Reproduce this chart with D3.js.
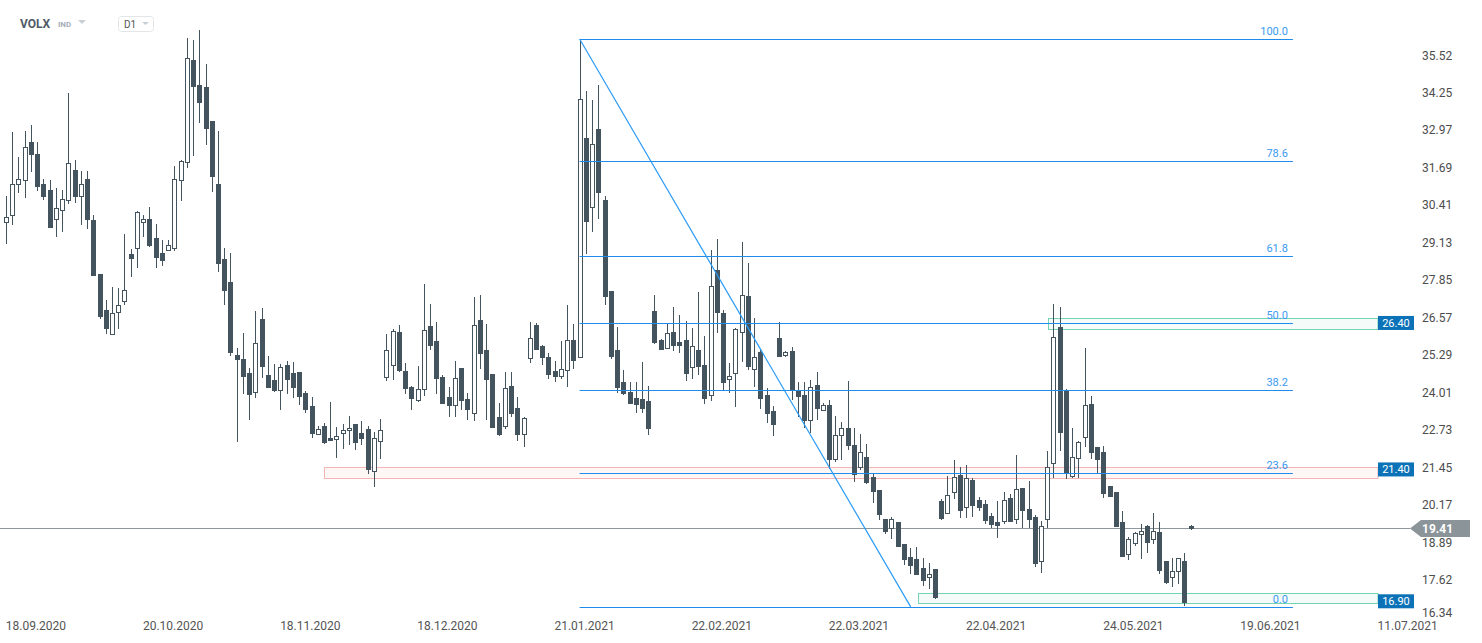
<!DOCTYPE html>
<html><head><meta charset="utf-8">
<script src="https://cdn.jsdelivr.net/npm/d3@7"></script>
<style>
body{margin:0;background:#fff;}
svg{display:block;font-family:Roboto,"Open Sans",Arial,sans-serif;}
</style>
</head><body>
<svg id="chart" width="1482" height="643"></svg>
<script>
// ---------- DATA ----------
const openV = [
29.84,30.08,31.13,31.29,32.58,32.16,31.13,30.94,29.94,30.27,
30.61,31.61,30.75,31.31,29.92,28.07,26.83,26.02,26.79,27.14,
28.75,28.96,29.84,29.94,29.31,28.79,28.89,28.96,31.27,31.88,
35.37,34.52,34.45,33.29,31.14,28.58,27.80,25.30,25.17,24.69,
24.03,26.54,24.63,24.45,24.10,24.96,24.69,24.73,24.00,23.57,
22.60,22.88,22.48,22.43,22.66,22.73,22.95,22.63,22.77,21.36,
22.36,24.55,24.96,26.09,24.76,24.21,23.78,24.14,26.30,25.79,
24.56,23.87,23.59,24.86,23.81,23.31,26.50,25.48,24.66,23.19,
22.87,24.24,23.49,22.60,25.19,26.32,25.61,25.23,24.76,24.60,
24.78,25.82,25.25,32.71,30.35,33.02,30.60,27.49,25.48,24.39,
24.04,23.84,23.81,23.74,26.81,25.82,25.53,26.09,25.75,25.82,
24.89,25.48,24.97,23.93,28.21,26.73,24.50,24.68,26.10,27.32,
24.82,25.41,23.93,23.40,25.89,25.30,25.44,24.08,23.94,23.10,
24.27,23.44,23.60,21.77,22.59,22.82,22.24,21.48,21.81,21.14,
20.70,19.71,19.40,19.61,18.86,18.41,18.34,18.04,17.72,17.99,
20.32,19.90,20.62,21.21,20.11,21.04,20.35,20.21,19.81,19.60,
19.63,20.42,19.70,20.77,20.04,19.77,18.29,19.72,21.63,26.25,
24.09,21.16,21.78,22.50,23.64,22.16,22.00,20.83,20.62,19.60,
18.50,18.88,19.19,19.47,19.02,19.27,18.28,17.72,17.92,18.28,19.48];
const highV = [
30.73,32.92,32.06,32.94,33.15,32.58,31.31,31.29,31.01,30.94,
34.25,31.96,31.59,31.59,30.10,28.07,27.18,27.63,27.58,29.43,
28.93,30.22,30.08,30.36,29.77,29.22,29.24,31.76,31.96,36.12,
36.06,36.40,35.24,33.29,32.95,28.96,28.79,25.54,26.06,24.86,
26.81,26.91,25.27,25.00,25.00,25.09,25.06,24.73,24.07,23.87,
22.88,22.98,23.70,22.84,22.95,23.23,22.95,23.04,22.88,22.67,
23.11,26.01,26.20,26.33,25.03,24.25,24.93,27.73,27.05,26.43,
24.61,24.21,25.10,24.86,24.01,27.29,27.36,26.37,24.66,23.67,
24.73,24.73,23.87,23.19,26.43,26.40,25.64,25.36,25.10,25.80,
27.01,26.37,36.09,34.32,34.01,34.52,30.75,27.49,26.26,24.80,
24.39,24.39,25.07,24.25,27.36,25.86,26.39,26.96,26.67,26.47,
26.24,27.46,25.96,28.89,29.27,26.84,25.02,26.24,29.16,28.46,
26.57,25.48,24.17,23.57,26.43,25.44,25.58,24.39,24.39,24.45,
24.73,23.66,23.77,23.23,23.02,24.42,22.82,22.60,22.27,21.26,
20.70,19.71,19.79,19.61,18.86,18.71,18.74,18.38,18.20,17.99,
20.38,21.18,21.72,21.47,21.55,21.10,20.46,20.35,19.90,20.32,
20.63,20.56,21.88,20.77,21.01,19.85,19.63,22.03,27.04,26.93,
24.15,22.82,22.38,25.55,23.91,22.16,22.20,20.83,20.62,19.98,
19.08,19.25,19.55,19.51,19.92,19.61,18.28,18.37,18.37,18.55,19.51];
const lowV = [
29.10,29.73,30.82,30.65,31.55,30.92,30.59,29.63,29.35,29.49,
30.47,30.50,29.73,29.59,28.02,26.55,26.04,26.02,26.21,27.02,
27.98,28.28,29.33,28.98,28.26,28.35,28.86,28.86,30.57,31.69,
32.10,33.24,32.47,30.87,28.15,27.01,25.27,22.35,23.99,23.10,
23.83,24.51,24.17,24.06,23.44,23.98,23.85,23.60,23.33,22.49,
22.60,22.27,22.37,21.80,22.09,22.22,22.07,22.24,21.25,20.79,
21.75,24.42,24.45,24.74,23.99,23.44,23.71,23.92,25.48,23.99,
23.68,23.20,23.20,23.44,23.10,23.07,24.84,23.10,22.86,22.55,
22.79,23.20,22.38,22.18,25.05,25.48,24.98,24.50,24.40,24.50,
24.23,24.84,25.22,28.77,29.52,29.96,27.01,25.18,24.00,23.94,
23.65,23.34,23.34,22.57,25.68,25.49,25.53,25.46,25.39,24.43,
24.50,24.61,23.62,23.74,26.05,24.11,24.02,23.54,25.07,24.81,
24.23,23.48,22.98,22.55,25.28,25.25,23.77,23.20,22.83,22.63,
23.09,23.41,21.43,21.66,21.72,22.08,20.97,21.38,20.89,20.27,
19.69,19.18,19.04,18.80,18.15,17.83,17.84,17.42,17.32,16.97,
19.66,19.90,20.39,19.73,19.73,19.79,19.99,19.53,19.41,19.07,
19.55,19.60,19.53,19.41,19.41,18.08,17.88,19.41,21.12,22.04,
21.06,21.12,21.12,22.18,21.74,21.29,20.42,20.45,19.48,18.41,
18.31,18.80,18.36,18.56,18.86,17.83,17.50,17.39,17.50,16.75,19.35];
const closeV = [
30.00,31.13,31.32,32.41,32.18,31.08,30.75,29.68,30.31,30.62,
31.85,30.72,31.13,29.96,28.05,26.65,26.23,26.74,27.00,27.53,
28.63,30.19,29.94,29.07,28.65,28.54,29.05,31.31,31.92,35.44,
34.50,33.95,33.07,31.43,28.46,27.53,25.42,25.16,24.60,23.99,
25.71,24.94,24.20,24.10,24.89,24.50,24.23,23.92,23.46,22.66,
22.77,22.34,22.40,22.53,22.74,22.81,22.32,22.46,21.41,22.46,
22.74,25.48,26.13,24.81,24.19,23.85,24.15,26.15,25.66,24.53,
23.68,23.61,24.51,23.78,23.48,26.32,25.39,24.50,22.86,22.62,
24.17,23.31,22.62,23.15,25.88,25.52,25.25,24.65,24.60,24.82,
25.81,25.15,34.03,29.89,32.50,30.88,27.33,25.28,24.23,24.02,
23.68,23.65,23.51,22.83,25.76,25.52,26.05,25.66,25.66,24.68,
25.61,24.94,23.85,27.66,26.79,24.37,24.58,26.19,27.34,24.94,
25.23,23.85,23.32,22.96,25.28,25.41,24.11,23.91,23.09,24.20,
23.51,23.59,21.77,22.57,22.82,22.25,21.23,21.99,20.98,20.68,
19.89,19.31,19.70,18.80,18.36,18.15,17.84,17.64,17.84,17.06,
19.73,20.52,21.13,20.03,21.12,20.20,20.11,19.69,19.55,19.52,
20.35,19.63,20.72,20.01,19.70,18.19,19.46,21.48,25.91,22.69,
21.29,21.84,22.33,23.59,22.01,21.74,20.61,20.51,19.48,18.46,
19.02,19.22,19.29,18.94,19.29,17.98,17.57,17.92,18.37,16.89,19.41];

const yTickValues = [35.52,34.25,32.97,31.69,30.41,29.13,27.85,26.57,25.29,24.01,22.73,21.45,20.17,18.89,17.62,16.34];
const dateLabels = ["18.09.2020","20.10.2020","18.11.2020","18.12.2020","21.01.2021","22.02.2021","22.03.2021","22.04.2021","24.05.2021","19.06.2021","11.07.2021"];
const dateIndex  = [4.8,26.8,48.8,70.8,92.8,114.8,136.8,158.8,180.8,202.8,224.8];

const fibLevels = [100, 78.6, 61.8, 50, 38.2, 23.6, 0];
const fibHigh = 36.09, fibLow = 16.71;
const fibStartIndex = 92, fibLowIndex = 145.1, fibEndIndex = 206.4;

const zoneStartIndex = [51.0, 167.1, 146.2];
const zoneLow  = [21.11, 26.21, 16.84];
const zoneHigh = [21.50, 26.56, 17.17];
const zoneLabelValue = [21.40, 26.40, 16.90];
const zoneKind = ["resistance","support","support"];

const lastPrice = 19.41;
const symbolName = "VOLX", symbolType = "IND", timeframe = "D1";

// ---------- DRAW ----------
const W = 1482, H = 643;
const svg = d3.select("#chart");
const x = d3.scaleLinear().domain([0, 190]).range([6, 1190.65]);
const y = d3.scaleLinear().domain([16.34, 35.52]).range([617.7, 55.76]);
const labelColX = 1378, labelW = 36, axisTextX = 1422;
const candleColor = "#44545f";
const fibColor = "#1f8ceb";

const n = openV.length;
const candles = d3.range(n).map(i => ({i, o: openV[i], h: highV[i], l: lowV[i], c: closeV[i]}));

// zones (behind)
const zg = svg.append("g");
zoneLow.forEach((lo, k) => {
  const top = Math.round(y(zoneHigh[k])) + 0.5, bot = Math.round(y(lo)) + 0.5;
  const x0 = Math.round(x(zoneStartIndex[k])) + 0.5;
  const red = zoneKind[k] === "resistance";
  zg.append("rect").attr("x", x0).attr("y", top)
    .attr("width", labelColX - x0).attr("height", bot - top)
    .attr("fill", red ? "#fff6f6" : "#f4fbf8")
    .attr("stroke", red ? "#f5b5b5" : "#74d3b0").attr("stroke-width", 1);
});

// last price line
const ly = Math.round(y(lastPrice)) + 0.5;
svg.append("line").attr("x1", 0).attr("x2", 1410).attr("y1", ly).attr("y2", ly)
  .attr("stroke", "#8d969c").attr("stroke-width", 1);

// candles
const cg = svg.append("g");
candles.forEach(d => {
  const cx = Math.round(x(d.i));
  const up = d.c >= d.o;
  cg.append("line").attr("x1", cx + 0.5).attr("x2", cx + 0.5)
    .attr("y1", Math.round(y(d.h))).attr("y2", Math.round(y(d.l)))
    .attr("stroke", candleColor).attr("stroke-width", 1);
  const t = Math.round(y(Math.max(d.o, d.c))), b = Math.round(y(Math.min(d.o, d.c)));
  cg.append("rect").attr("x", cx - 1.5).attr("y", t + 0.5)
    .attr("width", 4).attr("height", Math.max(1, b - t))
    .attr("fill", up ? "#ffffff" : candleColor)
    .attr("stroke", candleColor).attr("stroke-width", 1);
});

// fibonacci
const fg = svg.append("g");
const fibVal = p => fibLow + (fibHigh - fibLow) * p / 100;
fibLevels.forEach(p => {
  const yy = Math.round(y(fibVal(p))) + 0.5;
  fg.append("line").attr("x1", x(fibStartIndex)).attr("x2", x(fibEndIndex))
    .attr("y1", yy).attr("y2", yy).attr("stroke", fibColor).attr("stroke-width", 1);
  fg.append("text").attr("x", x(fibEndIndex) - 5).attr("y", yy - 5)
    .attr("text-anchor", "end").attr("font-size", 11).attr("fill", "#3a9af0")
    .text(p.toFixed(1));
});
fg.append("line").attr("x1", x(fibStartIndex)).attr("y1", y(fibHigh))
  .attr("x2", x(fibLowIndex)).attr("y2", y(fibLow))
  .attr("stroke", "#2a9af5").attr("stroke-width", 1.2);

// zone price labels
zoneLabelValue.forEach(v => {
  const cy = y(v);
  svg.append("rect").attr("x", labelColX).attr("y", cy - 7).attr("width", labelW).attr("height", 14)
    .attr("fill", "#0b72b8");
  svg.append("text").attr("x", labelColX + labelW / 2).attr("y", cy + 4)
    .attr("text-anchor", "middle").attr("font-size", 11).attr("fill", "#fff").text(v.toFixed(2));
});

// right axis labels
const ag = svg.append("g");
yTickValues.forEach(v => {
  ag.append("text").attr("x", axisTextX).attr("y", Math.min(y(v), 613) + 4)
    .attr("font-size", 12).attr("fill", "#4d4d4d").text(v.toFixed(2));
});

// last price tag
const tagTop = ly - 8.5, tagBot = ly + 8.5;
svg.append("path")
  .attr("d", `M1410,${ly} L1421,${tagTop} L1470,${tagTop} L1470,${tagBot} L1421,${tagBot} Z`)
  .attr("fill", "#8a9499");
svg.append("text").attr("x", axisTextX).attr("y", ly + 4.5).attr("font-size", 12)
  .attr("font-weight", "bold").attr("fill", "#fff").text(lastPrice.toFixed(2));

// date axis labels
dateLabels.forEach((s, k) => {
  svg.append("text").attr("x", x(dateIndex[k])).attr("y", 630)
    .attr("text-anchor", "middle").attr("font-size", 12).attr("fill", "#555").text(s);
});

// header
svg.append("text").attr("x", 20).attr("y", 27.5).attr("font-size", 12).attr("font-weight", "bold")
  .attr("fill", "#4f5b66").text(symbolName);
svg.append("text").attr("x", 58).attr("y", 27).attr("font-size", 8).attr("font-weight", "bold")
  .attr("fill", "#a3adb7").text(symbolType);
svg.append("path").attr("d", "M78,20 L86,20 L82,24 Z").attr("fill", "#c8cfd5");
svg.append("rect").attr("x", 118.5).attr("y", 16.5).attr("width", 35).attr("height", 15).attr("rx", 3)
  .attr("fill", "#fff").attr("stroke", "#e2e6e9");
svg.append("text").attr("x", 124).attr("y", 28).attr("font-size", 10).attr("fill", "#555").text(timeframe);
svg.append("path").attr("d", "M142,22 L149,22 L145.5,25 Z").attr("fill", "#c8cfd5");
</script>
</body></html>
